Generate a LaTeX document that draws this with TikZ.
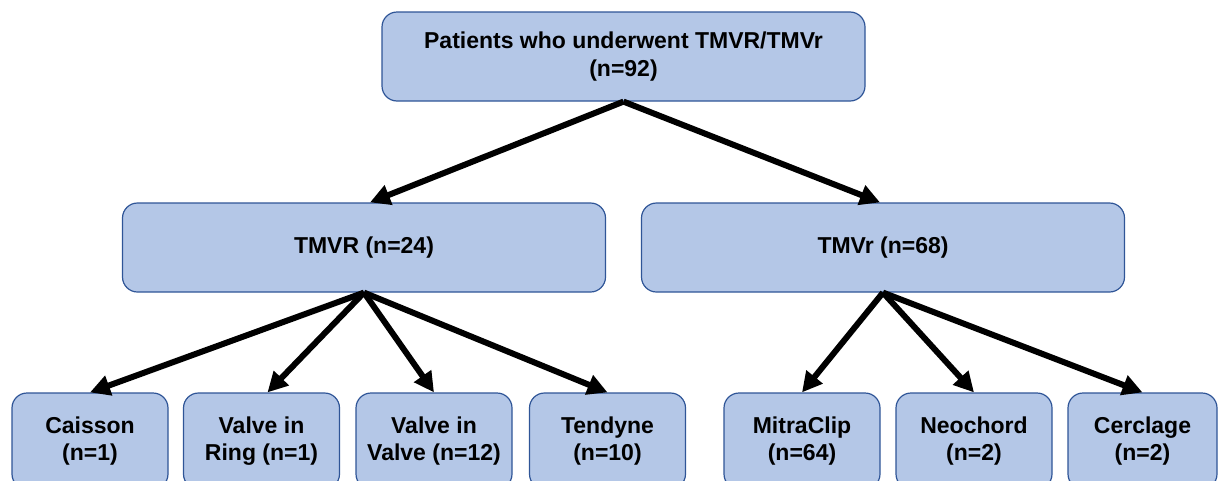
\documentclass[tikz,border=0pt]{standalone}
\usepackage{fontspec}
\setmainfont{Liberation Sans}
\usetikzlibrary{arrows.meta,calc}
\definecolor{boxfill}{HTML}{B4C7E7}
\definecolor{boxline}{HTML}{2F5597}
\tikzset{
  box/.style={draw=boxline, line width=1.2pt, fill=boxfill, rounded corners=15pt,
    align=center, inner sep=0pt, font=\fontsize{23}{27.5}\selectfont\bfseries},
  bigbox/.style={box, minimum width=483pt, minimum height=89pt},
  smallbox/.style={box, minimum width=156pt, minimum height=96pt},
  arr/.style={line width=6pt, -{Triangle[length=20pt,width=20pt]}}
}
\begin{document}
\begin{tikzpicture}[x=1pt,y=-1pt]
\useasboundingbox (0,0) rectangle (1218,480);
\clip (0,0) rectangle (1218,480);
\node[bigbox] (top) at (623.5,56.5) {Patients who underwent TMVR/TMVr\\(n=92)};
\node[bigbox] (tmvR) at (364,247.5) {TMVR (n=24)};
\node[bigbox] (tmvr) at (883,247.5) {TMVr (n=68)};
\node[smallbox] (caisson) at (90,441) {Caisson\\(n=1)};
\node[smallbox] (vir) at (261.5,441) {Valve in\\Ring (n=1)};
\node[smallbox] (viv) at (434,441) {Valve in\\Valve (n=12)};
\node[smallbox] (tend) at (607.5,441) {Tendyne\\(n=10)};
\node[smallbox] (mitra) at (802,441) {MitraClip\\(n=64)};
\node[smallbox] (neo) at (974,441) {Neochord\\(n=2)};
\node[smallbox, minimum width=149pt] (cerc) at (1142.5,441) {Cerclage\\(n=2)};
\draw[arr] (top.south) -- ($(tmvR.north)+(6,0)$);
\draw[arr] (top.south) -- ($(tmvr.north)+(-3,0)$);
\draw[arr] (tmvR.south) -- (caisson.north);
\draw[arr] (tmvR.south) -- ($(vir.north)+(6,0)$);
\draw[arr] (tmvR.south) -- (viv.north);
\draw[arr] (tmvR.south) -- (tend.north);
\draw[arr] (tmvr.south) -- (mitra.north);
\draw[arr] (tmvr.south) -- (neo.north);
\draw[arr] (tmvr.south) -- (cerc.north);
\end{tikzpicture}
\end{document}
